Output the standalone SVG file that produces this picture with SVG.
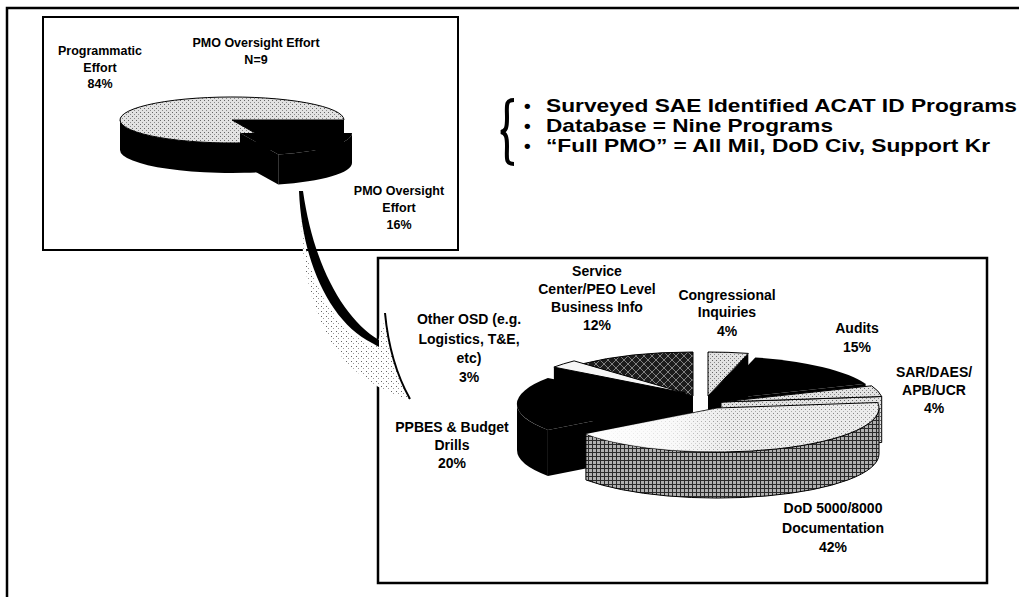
<svg xmlns="http://www.w3.org/2000/svg" width="1019" height="597" viewBox="0 0 1019 597">
<style>
text{font-family:"Liberation Sans",Arial,sans-serif;font-weight:bold;fill:#000}
.s{font-size:12.5px;text-anchor:middle}
.l{font-size:14px;text-anchor:middle}
.b{font-size:19px}
.frame{fill:none;stroke:#000}
.blk{fill:#000}
.ol{stroke:#000;stroke-width:1}
</style>
<defs>
<pattern id="stip" width="4" height="4" patternUnits="userSpaceOnUse"><rect width="4" height="4" fill="#e2e2e2"/><rect x="0" y="0" width="1" height="1" fill="#666"/><rect x="2" y="2" width="1" height="1" fill="#8a8a8a"/></pattern>
<pattern id="stipL" width="4" height="4" patternUnits="userSpaceOnUse"><rect width="4" height="4" fill="#ececec"/><rect x="1" y="1" width="1" height="1" fill="#888"/><rect x="3" y="3" width="1" height="1" fill="#aaa"/></pattern>
<pattern id="xdark" width="8" height="8" patternUnits="userSpaceOnUse"><rect width="8" height="8" fill="#1c1c1c"/><path d="M0,0 L8,8 M8,0 L0,8" stroke="#9a9a9a" stroke-width="0.8"/></pattern>
<pattern id="hatch" width="4" height="4" patternUnits="userSpaceOnUse"><rect width="4" height="4" fill="#b0b0b0"/><path d="M0,0.5 H4 M0.5,0 V4" stroke="#2a2a2a" stroke-width="1"/></pattern>
<pattern id="shade" width="5" height="5" patternUnits="userSpaceOnUse"><rect width="5" height="5" fill="#fff"/><rect x="1" y="1" width="1" height="1" fill="#666"/><rect x="3" y="3" width="1" height="1" fill="#999"/></pattern>
<linearGradient id="glare" x1="590" y1="0" x2="730" y2="0" gradientUnits="userSpaceOnUse"><stop offset="0" stop-color="#fff" stop-opacity="0.95"/><stop offset="0.6" stop-color="#fff" stop-opacity="0.7"/><stop offset="1" stop-color="#fff" stop-opacity="0"/></linearGradient>
</defs>
<rect width="1019" height="597" fill="#fff"/>
<g id="outer-frame"><rect class="frame" x="7" y="8" width="1040" height="620" stroke-width="2.5"/></g>

<g id="node-oversight">
<rect class="frame" x="43" y="17" width="415" height="233" stroke-width="2"/>
<text class="s" x="256" y="47">PMO Oversight Effort</text>
<text class="s" x="256" y="64">N=9</text>
<text class="s" x="100" y="55">Programmatic</text>
<text class="s" x="100" y="72">Effort</text>
<text class="s" x="100" y="88">84%</text>
<path class="blk" d="M270.3,141.6 A112,23 0 0 1 120,120 L120,150 A112,23 0 0 0 270.3,171.6 Z"/>
<polygon class="blk" points="232,120 344,120 344,150 232,150"/>
<path d="M232,120 L270.3,141.6 A112,23 0 1 1 344,120 Z" fill="url(#stip)" class="ol"/>
<path class="blk" d="M352,133 A112,23 0 0 1 278.3,154.6 L278.3,184.6 A112,23 0 0 0 352,163 Z"/>
<polygon class="blk" points="240,133 278.3,154.6 278.3,184.6 240,163"/>
<path class="blk" d="M240,133 L352,133 A112,23 0 0 1 278.3,154.6 Z"/>
<text class="s" x="399" y="195">PMO Oversight</text>
<text class="s" x="399" y="212">Effort</text>
<text class="s" x="399" y="229">16%</text>
</g>

<g id="node-notes">
<path d="M514,100 C505,100 507,106 507,118 C507,128 506,131 501,132 C506,133 507,137 507,146 C507,158 505,164 514,164" fill="none" stroke="#000" stroke-width="4"/>
<text class="b" x="524" y="112">•</text>
<text class="b" x="546" y="112" textLength="471" lengthAdjust="spacingAndGlyphs">Surveyed SAE Identified ACAT ID Programs</text>
<text class="b" x="524" y="132">•</text>
<text class="b" x="546" y="132" textLength="287" lengthAdjust="spacingAndGlyphs">Database = Nine Programs</text>
<text class="b" x="524" y="152">•</text>
<text class="b" x="546" y="152" textLength="444" lengthAdjust="spacingAndGlyphs">“Full PMO” = All Mil, DoD Civ, Support Kr</text>
</g>

<g id="node-breakdown">
<rect class="frame" x="378" y="258" width="609" height="325" stroke-width="2.5"/>
<polygon class="blk" points="693,396 582.1,363.9 582.1,409.9 693,442"/>
<path d="M693,396 L582.1,363.9 A162,44 0 0 1 693,352 Z" fill="url(#xdark)" class="ol"/>
<polygon class="blk" points="685,393 553.9,367.1 553.9,413.1 685,439"/>
<path d="M685,393 L553.9,367.1 A162,44 0 0 1 574.1,360.9 Z" fill="#f6f6f6" class="ol"/>
<polygon class="blk" points="708,396 748.3,353.4 748.3,399.4 708,442"/>
<path d="M708,396 L708,352 A162,44 0 0 1 748.3,353.4 Z" fill="url(#stip)" class="ol"/>
<polygon class="blk" points="715,400 865.6,383.8 865.6,429.8 715,446"/>
<path class="blk" d="M715,400 L755.3,357.4 A162,44 0 0 1 865.6,383.8 Z"/>
<polygon points="721,402 881.7,396.5 881.7,442.5 721,448" fill="url(#stip)" class="ol"/>
<path d="M721,402 L871.6,385.8 A162,44 0 0 1 881.7,396.5 Z" fill="url(#stip)" class="ol"/>
<path class="blk" d="M547.9,429.9 A162,44 0 0 1 517,404 L517,450 A162,44 0 0 0 547.9,475.9 Z"/>
<polygon class="blk" points="679,404 547.9,429.9 547.9,475.9 679,450"/>
<path class="blk" d="M679,404 L547.9,429.9 A162,44 0 0 1 547.9,378.1 Z"/>
<path d="M879,408 A162,44 0 0 1 585.9,433.9 L585.9,479.9 A162,44 0 0 0 879,454 Z" fill="url(#hatch)" class="ol"/>
<path d="M717,408 L877.7,402.5 A162,44 0 0 1 585.9,433.9 Z" fill="url(#stipL)" class="ol"/>
<path d="M717,408 L877.7,402.5 A162,44 0 0 1 585.9,433.9 Z" fill="url(#glare)"/>
<text class="l" x="597" y="276">Service</text>
<text class="l" x="597" y="294">Center/PEO Level</text>
<text class="l" x="597" y="312">Business Info</text>
<text class="l" x="597" y="330">12%</text>
<text class="l" x="727" y="300">Congressional</text>
<text class="l" x="727" y="317">Inquiries</text>
<text class="l" x="727" y="336">4%</text>
<text class="l" x="857" y="333">Audits</text>
<text class="l" x="857" y="352">15%</text>
<text class="l" x="934" y="377">SAR/DAES/</text>
<text class="l" x="934" y="395">APB/UCR</text>
<text class="l" x="934" y="413">4%</text>
<text class="l" x="469" y="324">Other OSD (e.g.</text>
<text class="l" x="469" y="344">Logistics, T&amp;E,</text>
<text class="l" x="469" y="363">etc)</text>
<text class="l" x="469" y="382">3%</text>
<text class="l" x="452" y="432">PPBES &amp; Budget</text>
<text class="l" x="452" y="450">Drills</text>
<text class="l" x="452" y="468">20%</text>
<text class="l" x="833" y="513">DoD 5000/8000</text>
<text class="l" x="833" y="533">Documentation</text>
<text class="l" x="833" y="552">42%</text>
</g>

<g id="connectors">
<path d="M302,215 C303,270 330,330 376,347 L386,316 C390,350 397,378 410,400 C375,390 340,365 325,330 C310,300 300,260 302,215 Z" fill="url(#shade)"/>
<path d="M299,191 C302,262 330,322 372,343 L379,347 L379,340 C342,318 313,262 303,191 Z" fill="#000"/>
<path d="M385,313 C388,345 396,374 410,399" fill="none" stroke="#000" stroke-width="2"/>
</g>
</svg>
